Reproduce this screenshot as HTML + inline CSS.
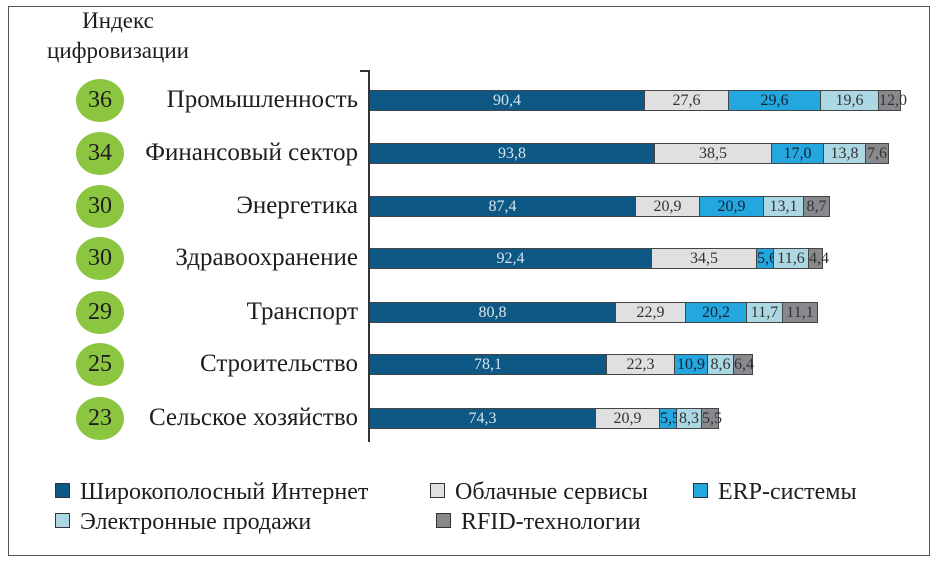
<!DOCTYPE html>
<html><head><meta charset="utf-8"><style>
body{margin:0;width:938px;height:565px;background:#fff;position:relative;overflow:hidden;font-family:"Liberation Serif","DejaVu Serif",serif;color:#1e1e1e}
.fr{position:absolute;left:8px;top:6px;width:922px;height:550px;border:1.5px solid #555;box-sizing:border-box}
.ax{position:absolute;left:368px;top:70px;width:2px;height:372px;background:#333}
.axt{position:absolute;left:360px;top:70px;width:10px;height:2px;background:#333}
.row{position:absolute;left:370px;height:21px;display:flex}
.s{height:21px;box-sizing:border-box;border:1px solid #444;border-left:none;font-size:16px;line-height:19px;text-align:center;overflow:visible;white-space:nowrap;color:#333}
.a{background:#0e5885;color:#d5e3ee}.b{background:#e0e0e3}.c{background:#24a6de;color:#123}.d{background:#acd8e4}.e{background:#88898c}
.cat{position:absolute;right:580px;font-size:25px;line-height:26px;white-space:nowrap}
.g{position:absolute;left:76px;width:48px;height:43px;border-radius:50%;background:#8cc540;font-size:24px;line-height:43px;text-align:center}
.t{position:absolute;left:0;width:236px;text-align:center;font-size:23px}
.lg{position:absolute;font-size:24px;line-height:26px;white-space:nowrap}
.sq{display:inline-block;width:13px;height:13px;border:1px solid #333;margin-right:10px;vertical-align:1px}
</style></head><body>
<div class="fr"></div>
<div class="t" style="top:8px">Индекс</div>
<div class="t" style="top:38px">цифровизации</div>
<div class="ax"></div><div class="axt"></div>

<div class="g" style="top:79px">36</div><div class="cat" style="top:87px">Промышленность</div>
<div class="row" style="top:90px"><div class="s a" style="width:275px">90,4</div><div class="s b" style="width:84px">27,6</div><div class="s c" style="width:92px">29,6</div><div class="s d" style="width:58px">19,6</div><div class="s e" style="width:22px">12,0</div></div>

<div class="g" style="top:132px">34</div><div class="cat" style="top:140px">Финансовый сектор</div>
<div class="row" style="top:143px"><div class="s a" style="width:285px">93,8</div><div class="s b" style="width:117px">38,5</div><div class="s c" style="width:52px">17,0</div><div class="s d" style="width:42px">13,8</div><div class="s e" style="width:23px">7,6</div></div>

<div class="g" style="top:185px">30</div><div class="cat" style="top:193px">Энергетика</div>
<div class="row" style="top:196px"><div class="s a" style="width:266px">87,4</div><div class="s b" style="width:64px">20,9</div><div class="s c" style="width:64px">20,9</div><div class="s d" style="width:40px">13,1</div><div class="s e" style="width:26px">8,7</div></div>

<div class="g" style="top:237px">30</div><div class="cat" style="top:245px">Здравоохранение</div>
<div class="row" style="top:248px"><div class="s a" style="width:282px">92,4</div><div class="s b" style="width:105px">34,5</div><div class="s c" style="width:17px">5,6</div><div class="s d" style="width:35px">11,6</div><div class="s e" style="width:14px">4,4</div></div>

<div class="g" style="top:291px">29</div><div class="cat" style="top:299px">Транспорт</div>
<div class="row" style="top:302px"><div class="s a" style="width:246px">80,8</div><div class="s b" style="width:70px">22,9</div><div class="s c" style="width:61px">20,2</div><div class="s d" style="width:36px">11,7</div><div class="s e" style="width:35px">11,1</div></div>

<div class="g" style="top:343px">25</div><div class="cat" style="top:351px">Строительство</div>
<div class="row" style="top:354px"><div class="s a" style="width:237px">78,1</div><div class="s b" style="width:68px">22,3</div><div class="s c" style="width:33px">10,9</div><div class="s d" style="width:26px">8,6</div><div class="s e" style="width:19px">6,4</div></div>

<div class="g" style="top:397px">23</div><div class="cat" style="top:405px">Сельское хозяйство</div>
<div class="row" style="top:408px"><div class="s a" style="width:226px">74,3</div><div class="s b" style="width:64px">20,9</div><div class="s c" style="width:17px">5,5</div><div class="s d" style="width:25px">8,3</div><div class="s e" style="width:17px">5,5</div></div>

<div class="lg" style="left:55px;top:479px"><span class="sq a"></span>Широкополосный Интернет</div>
<div class="lg" style="left:430px;top:479px"><span class="sq b"></span>Облачные сервисы</div>
<div class="lg" style="left:693px;top:479px"><span class="sq c"></span>ERP-системы</div>
<div class="lg" style="left:55px;top:509px"><span class="sq d"></span>Электронные продажи</div>
<div class="lg" style="left:436px;top:509px"><span class="sq e"></span>RFID-технологии</div>
</body></html>
